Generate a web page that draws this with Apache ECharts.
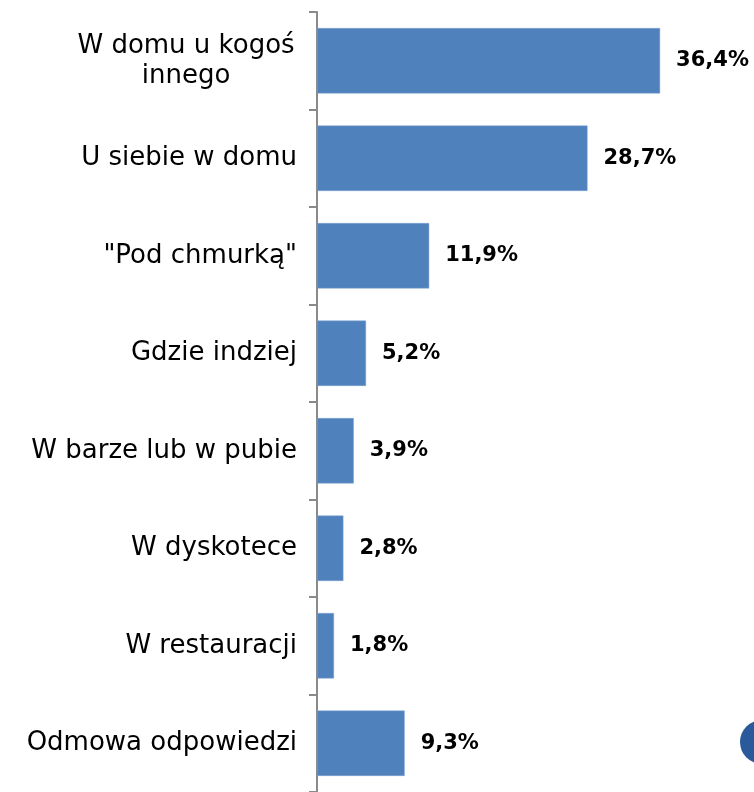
<!DOCTYPE html>
<html>
<head>
<meta charset="utf-8">
<script src="https://cdn.jsdelivr.net/npm/echarts@6/dist/echarts.min.js"></script>
<style>
html, body { margin: 0; padding: 0; background: #fff; }
#chart { width: 754px; height: 792px; }
</style>
</head>
<body>
<div id="chart"></div>
<script type="text/javascript">
// dane
var categories = ['W domu u kogoś\ninnego', 'U siebie w domu', '"Pod chmurką"', 'Gdzie indziej',
    'W barze lub w pubie', 'W dyskotece', 'W restauracji', 'Odmowa odpowiedzi'];
var values = [36.4, 28.7, 11.9, 5.2, 3.9, 2.8, 1.8, 9.3];

var fontName = '"DejaVu Sans", sans-serif';

var myChart = echarts.init(document.getElementById('chart'));
var option = {
    animation: false,
    grid: {
        left: 317,
        right: 60,
        top: 12,
        bottom: 0
    },
    xAxis: {
        type: 'value',
        min: 0,
        max: 40,
        show: false
    },
    yAxis: {
        type: 'category',
        inverse: true,
        data: categories,
        axisLine: { show: true, lineStyle: { color: '#8a8a8a', width: 2 } },
        axisTick: { show: true, length: 8, lineStyle: { color: '#8a8a8a', width: 2 } },
        axisLabel: {
            margin: 20,
            fontFamily: fontName,
            fontSize: 26,
            color: '#000',
            formatter: function (v) {
                if (v.indexOf('\n') < 0) return v;
                return v.split('\n').map(function (s) { return '{c|' + s + '}'; }).join('\n');
            },
            rich: {
                c: { width: 222, align: 'center', fontFamily: fontName, fontSize: 26, color: '#000', lineHeight: 30 }
            }
        }
    },
    series: [{
        type: 'bar',
        data: values,
        barWidth: '67%',
        itemStyle: { color: '#4f81bd', borderColor: '#7aa0d0', borderWidth: 0.5 },
        label: {
            show: true,
            position: 'right',
            distance: 16,
            fontFamily: fontName,
            fontSize: 21,
            fontWeight: 'bold',
            color: '#000',
            formatter: function (p) {
                return String(p.value).replace('.', ',') + '%';
            }
        }
    }],
    graphic: [{
        type: 'circle',
        shape: { cx: 762, cy: 742, r: 22 },
        style: { fill: '#2b5a9b' }
    }]
};
myChart.setOption(option);
</script>
</body>
</html>
